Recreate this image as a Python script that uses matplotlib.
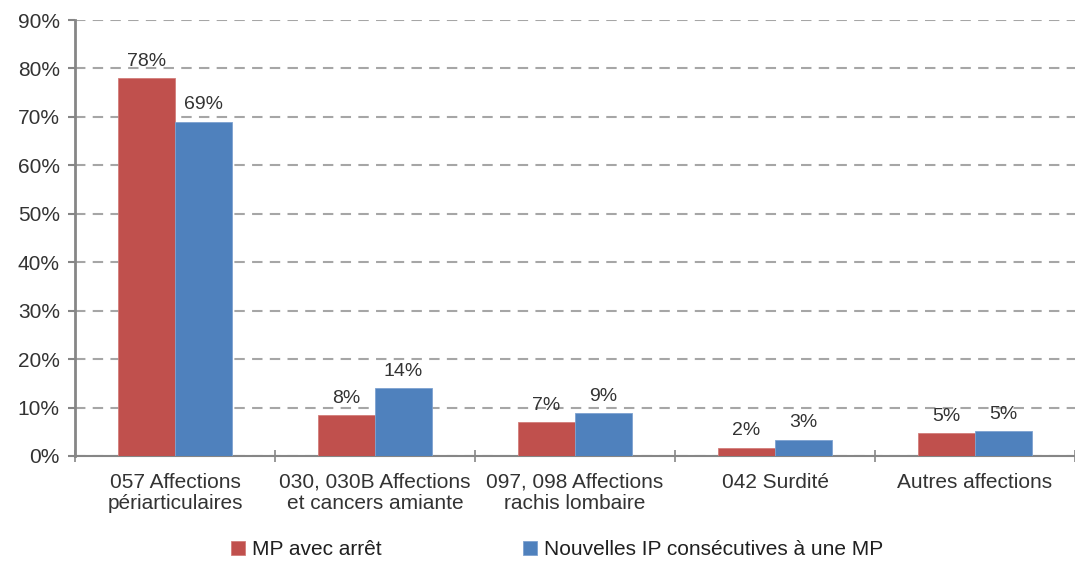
import matplotlib
matplotlib.use('Agg')
import matplotlib.pyplot as plt
import numpy as np

plt.rcParams['font.family'] = ['Liberation Sans', 'DejaVu Sans']

categories = ['057 Affections\npériarticulaires',
              '030, 030B Affections\net cancers amiante',
              '097, 098 Affections\nrachis lombaire',
              '042 Surdité',
              'Autres affections']
mp_arret = [78, 8.4, 7, 1.7, 4.7]
nouvelles_ip = [69, 14, 8.8, 3.4, 5.1]
labels_mp = ['78%', '8%', '7%', '2%', '5%']
labels_ip = ['69%', '14%', '9%', '3%', '5%']
series_names = ['MP avec arrêt', 'Nouvelles IP consécutives à une MP']

red = '#C0504D'
blue = '#4F81BD'
txt = '#333333'
axcol = '#868686'

fig = plt.figure(figsize=(10.75, 5.64), dpi=100)
ax = fig.add_axes([0.0698, 0.1915, 0.9302, 0.773])

x = np.arange(len(categories))
w = 0.284
b1 = ax.bar(x - w / 2, mp_arret, w, color=red, edgecolor='#d27e7b', linewidth=0.6, zorder=3, label=series_names[0])
b2 = ax.bar(x + w / 2, nouvelles_ip, w, color=blue, edgecolor='#7ea2d0', linewidth=0.6, zorder=3, label=series_names[1])

for bars, labs in ((b1, labels_mp), (b2, labels_ip)):
    for r, l in zip(bars, labs):
        ax.annotate(l, (r.get_x() + r.get_width() / 2, r.get_height()),
                    xytext=(0, 6), textcoords='offset points',
                    ha='center', va='bottom', fontsize=14, color=txt, zorder=4)

ax.set_xlim(-0.5, len(categories) - 0.5)
ax.set_ylim(0, 90)
ax.set_yticks(np.arange(0, 91, 10))
ax.set_yticklabels(['%d%%' % v for v in range(0, 91, 10)], fontsize=15, color=txt)
ax.yaxis.grid(True, linestyle=(0, (5, 3.5)), color='#a6a6a6', linewidth=1.5, zorder=0)

ax.set_xticks(x)
ax.set_xticklabels(categories, fontsize=15, color=txt, linespacing=1.15)
ax.set_xticks(np.arange(-0.5, len(categories), 1), minor=True)
ax.tick_params(axis='x', which='major', length=0, pad=12)
ax.tick_params(axis='x', which='minor', length=8, direction='inout', color=axcol, width=1.2)
ax.tick_params(axis='y', length=5, direction='out', color=axcol, width=1.5, pad=6)

for s in ('top', 'right'):
    ax.spines[s].set_visible(False)
ax.spines['left'].set_color(axcol)
ax.spines['left'].set_linewidth(2)
ax.spines['bottom'].set_color(axcol)
ax.spines['bottom'].set_linewidth(1.5)

fig.legend(handles=[b1, b2], loc='center', bbox_to_anchor=(0.518, 0.025),
           ncol=2, frameon=False, fontsize=15, handlelength=0.7, handleheight=0.7,
           handletextpad=0.3, columnspacing=6.8)
for t in fig.legends[0].get_texts():
    t.set_color('#202020')

fig.savefig('out.png', dpi=100)
